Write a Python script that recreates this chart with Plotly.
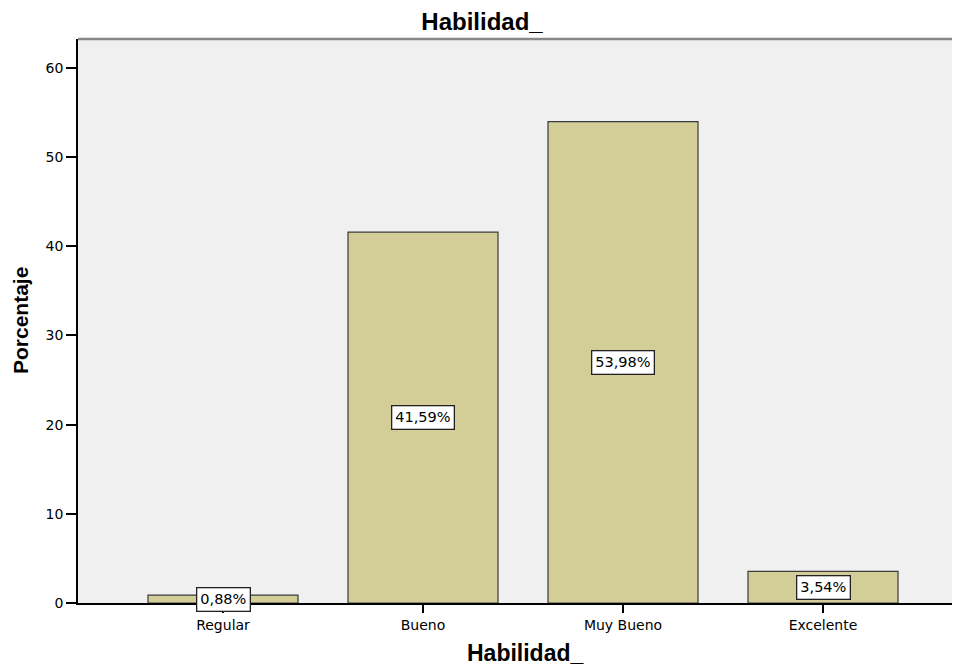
import plotly.graph_objects as go

categories = ["Regular", "Bueno", "Muy Bueno", "Excelente"]
values = [0.88, 41.59, 53.98, 3.54]
labels = ["0,88%", "41,59%", "53,98%", "3,54%"]
y_ticks = [0, 10, 20, 30, 40, 50, 60]

FONT = "DejaVu Sans, Arial, sans-serif"
BOLD = "Liberation Sans, Arial, sans-serif"

# page has an 8px body margin: figure is 952x658 placed at (8, 8)
W, H = 952, 658
L, T, B, R = 70, 31, 63, 0
PW, PH = W - L - R, H - T - B

fig = go.Figure()
fig.add_trace(go.Bar(
    x=categories, y=values, width=0.75,
    marker=dict(color="#D3CE98", line=dict(color="#3a3a3a", width=1.2)),
    hoverinfo="skip",
))

for c, v, t in zip(categories, values, labels):
    fig.add_annotation(
        x=c, y=v / 2, text=t, showarrow=False,
        font=dict(family=FONT, size=14.5, color="black"),
        bgcolor="white", bordercolor="#222", borderwidth=1.3, borderpad=3,
    )

fig.add_shape(type="line", xref="paper", yref="paper", x0=0, x1=1, y0=1, y1=1,
              line=dict(color="#888888", width=2.5))

# axis titles
fig.add_annotation(
    text="<b>Habilidad_</b>", showarrow=False, xref="paper", yref="paper",
    x=(517 - L) / PW, y=(H - B - 645) / PH, xanchor="center", yanchor="middle",
    font=dict(family=BOLD, size=23, color="black"),
)
fig.add_annotation(
    text="<b>Porcentaje</b>", showarrow=False, xref="paper", yref="paper", textangle=-90,
    x=(12 - L) / PW, y=(H - B - 313) / PH, xanchor="center", yanchor="middle",
    font=dict(family=BOLD, size=21, color="black"),
)

fig.update_layout(
    width=W, height=H,
    margin=dict(l=L, r=R, t=T, b=B),
    paper_bgcolor="white", plot_bgcolor="#F0F0F0",
    showlegend=False,
    font=dict(family=FONT, size=14, color="black"),
    title=dict(text="<b>Habilidad_</b>", x=474 / W, xref="container", xanchor="center",
               y=1 - 14 / H, yanchor="middle", yref="container",
               font=dict(family=BOLD, size=24, color="black")),
    xaxis=dict(
        range=[-0.725, 3.685], showgrid=False, zeroline=False,
        showline=True, linecolor="black", linewidth=1.5,
        ticks="outside", ticklen=8, tickcolor="black", tickwidth=1.5,
        tickfont=dict(family=FONT, size=14, color="black"),
    ),
    yaxis=dict(
        range=[0, 63.25], tickvals=y_ticks, showgrid=False, zeroline=False,
        showline=True, linecolor="black", linewidth=1.5,
        ticks="outside", ticklen=10, tickcolor="black", tickwidth=1.5,
        tickfont=dict(family=FONT, size=14, color="black"),
    ),
)

fig.write_html("out.html")
